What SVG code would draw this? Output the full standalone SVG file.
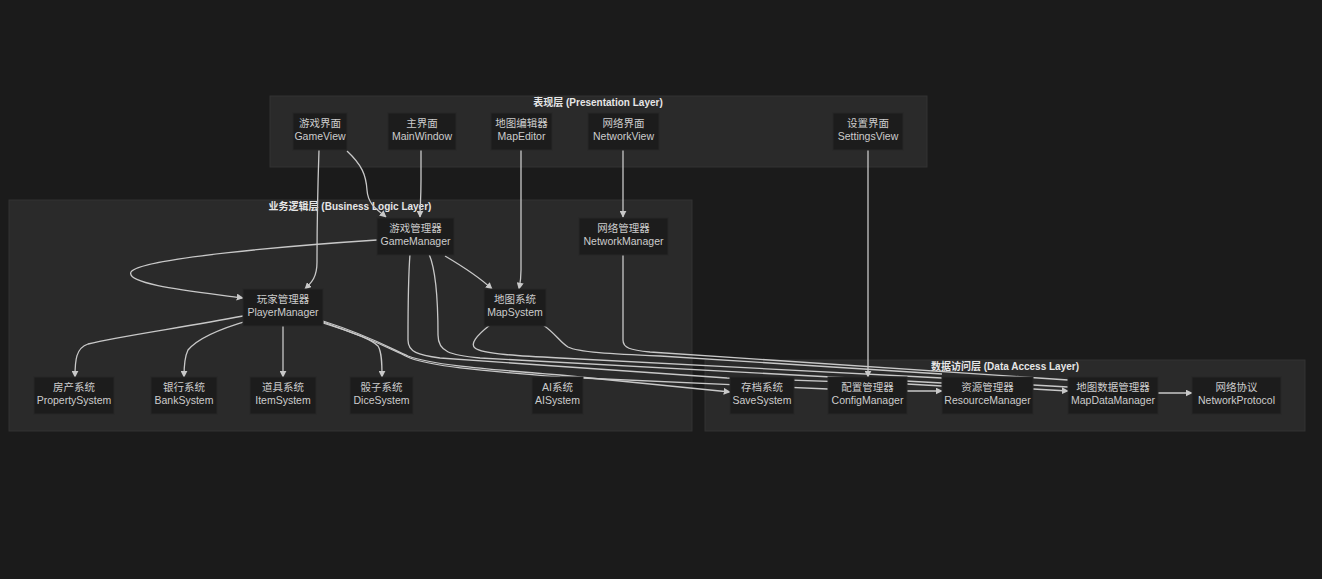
<svg xmlns="http://www.w3.org/2000/svg" width="1322" height="579" viewBox="0 0 1322 579">
<defs>
<style>
.cl{fill:#2a2a2a;stroke:#333;stroke-width:1}
.ct{font-family:"Liberation Sans","Noto Sans CJK SC",sans-serif;font-size:10px;font-weight:bold;fill:#e6e6e6;text-anchor:middle}
.n rect{fill:#1c1c1c;stroke:#262626;stroke-width:1}
.n text{font-family:"Liberation Sans","Noto Sans CJK SC",sans-serif;font-size:10.5px;fill:#cccccc;text-anchor:middle}
.e path{fill:none;stroke:#c8c8c8;stroke-width:1.3}
.a path{marker-end:url(#ah)}
</style>
<marker id="ah" viewBox="0 0 10 10" refX="9" refY="5" markerWidth="7" markerHeight="7" orient="auto" markerUnits="userSpaceOnUse"><path d="M0,0 L10,5 L0,10 z" fill="#c8c8c8"/></marker>
</defs>
<rect width="1322" height="579" fill="#1b1b1b"/>
<g id="clusters">
<rect class="cl" x="270" y="96" width="657" height="71"/>
<text class="ct" x="598" y="106">表现层 (Presentation Layer)</text>
<rect class="cl" x="9" y="200" width="683" height="231"/>
<text class="ct" x="350" y="210">业务逻辑层 (Business Logic Layer)</text>
<rect class="cl" x="705" y="360" width="600" height="71"/>
<text class="ct" x="1005" y="370">数据访问层 (Data Access Layer)</text>
</g>
<g id="connectors" class="e">
<g class="a">
<path d="M319,150 C318,180 317,230 317,262 C317,278 311,283 305,289"/>
<path d="M347,151 C362,165 366,175 367,190 C368,205 378,210 386,217"/>
<path d="M421,150 L421,180 C421,200 420,208 420,217"/>
<path d="M521,150 L521,270 C521,280 520,284 519,289"/>
<path d="M623,150 L623,217"/>
<path d="M868,150 L868,377"/>
<path d="M377,240 C300,245 140,258 131,272 C125,285 200,292 243,298"/>
<path d="M445,256 C462,266 478,276 492,289"/>
<path d="M243,316 C180,328 120,336 88,344 C76,348 75,360 75,377"/>
<path d="M250,320 C215,330 196,340 188,350 C185,356 184,365 184,377"/>
<path d="M283,325 L283,377"/>
<path d="M323,322 C350,332 370,338 378,346 C382,352 382,365 382,377"/>
<path d="M323,321 C370,336 390,348 408,356 C430,364 470,368 560,375 L730,392"/>
<path d="M907,391 L942,391"/>
<path d="M1033,389 L1068,391"/>
<path d="M1158,393 L1192,393"/>
</g>
<path d="M323,323 C372,338 392,350 410,358 C432,366 472,370 560,377 L828,389"/>
<path d="M410,254 C408,280 408,320 408,340 C408,352 418,355 440,358 L727,378 L907,384 L942,386"/>
<path d="M429,254 C436,270 438,300 438,335 C438,352 450,355 480,358 L942,383 L1033,385 L1068,387"/>
<path d="M490,325 C476,336 470,344 475,348 C482,354 520,356 560,358 L942,378"/>
<path d="M543,325 C555,333 560,342 568,347 C578,352 610,354 660,356 L942,374"/>
<path d="M623,254 L623,340 C623,348 630,350 650,352 L1068,380"/>
</g>
<g id="n_GameView" class="n"><rect x="293" y="113" width="54" height="37"/><text x="320" y="127">游戏界面</text><text x="320" y="140">GameView</text></g>
<g id="n_MainWindow" class="n"><rect x="388" y="113" width="68" height="37"/><text x="422" y="127">主界面</text><text x="422" y="140">MainWindow</text></g>
<g id="n_MapEditor" class="n"><rect x="491" y="113" width="61" height="37"/><text x="521.5" y="127">地图编辑器</text><text x="521.5" y="140">MapEditor</text></g>
<g id="n_NetworkView" class="n"><rect x="588" y="113" width="71" height="37"/><text x="623.5" y="127">网络界面</text><text x="623.5" y="140">NetworkView</text></g>
<g id="n_SettingsView" class="n"><rect x="833" y="113" width="70" height="37"/><text x="868" y="127">设置界面</text><text x="868" y="140">SettingsView</text></g>
<g id="n_GameManager" class="n"><rect x="377" y="218" width="77" height="37"/><text x="415.5" y="232">游戏管理器</text><text x="415.5" y="245">GameManager</text></g>
<g id="n_NetworkManager" class="n"><rect x="579" y="218" width="89" height="37"/><text x="623.5" y="232">网络管理器</text><text x="623.5" y="245">NetworkManager</text></g>
<g id="n_PlayerManager" class="n"><rect x="243" y="289" width="80" height="37"/><text x="283" y="303">玩家管理器</text><text x="283" y="316">PlayerManager</text></g>
<g id="n_MapSystem" class="n"><rect x="484" y="289" width="62" height="37"/><text x="515" y="303">地图系统</text><text x="515" y="316">MapSystem</text></g>
<g id="n_PropertySystem" class="n"><rect x="34" y="377" width="80" height="37"/><text x="74" y="391">房产系统</text><text x="74" y="404">PropertySystem</text></g>
<g id="n_BankSystem" class="n"><rect x="151" y="377" width="66" height="37"/><text x="184" y="391">银行系统</text><text x="184" y="404">BankSystem</text></g>
<g id="n_ItemSystem" class="n"><rect x="250" y="377" width="66" height="37"/><text x="283" y="391">道具系统</text><text x="283" y="404">ItemSystem</text></g>
<g id="n_DiceSystem" class="n"><rect x="350" y="377" width="63" height="37"/><text x="381.5" y="391">骰子系统</text><text x="381.5" y="404">DiceSystem</text></g>
<g id="n_AISystem" class="n"><rect x="532" y="377" width="51" height="37"/><text x="557.5" y="391">AI系统</text><text x="557.5" y="404">AISystem</text></g>
<g id="n_SaveSystem" class="n"><rect x="730" y="377" width="64" height="37"/><text x="762" y="391">存档系统</text><text x="762" y="404">SaveSystem</text></g>
<g id="n_ConfigManager" class="n"><rect x="828" y="377" width="79" height="37"/><text x="867.5" y="391">配置管理器</text><text x="867.5" y="404">ConfigManager</text></g>
<g id="n_ResourceManager" class="n"><rect x="942" y="377" width="91" height="37"/><text x="987.5" y="391">资源管理器</text><text x="987.5" y="404">ResourceManager</text></g>
<g id="n_MapDataManager" class="n"><rect x="1068" y="377" width="90" height="37"/><text x="1113" y="391">地图数据管理器</text><text x="1113" y="404">MapDataManager</text></g>
<g id="n_NetworkProtocol" class="n"><rect x="1192" y="377" width="89" height="37"/><text x="1236.5" y="391">网络协议</text><text x="1236.5" y="404">NetworkProtocol</text></g>
</svg>
